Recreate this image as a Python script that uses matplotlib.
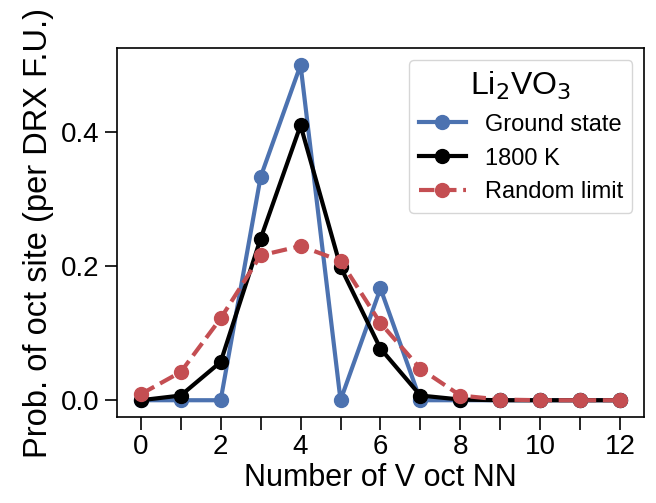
import numpy as np
import matplotlib
matplotlib.use("Agg")
from matplotlib import pyplot as plt

plt.rcParams['font.family'] = ['Liberation Sans', 'DejaVu Sans']

nn = np.arange(13)
ground = [0, 0, 0, 0.333, 0.5, 0, 0.1667, 0, 0, 0, 0, 0, 0]
hot = [0, 0.007, 0.057, 0.241, 0.41, 0.199, 0.077, 0.007, 0.001, 0, 0, 0, 0]
rand = [0.009, 0.042, 0.122, 0.216, 0.23, 0.208, 0.115, 0.047, 0.007, 0.001, 0, 0, 0]

fig = plt.figure(figsize=(6.56, 5.03), dpi=100)
ax = fig.add_axes([0.178, 0.171, 0.804, 0.733])

ax.plot(nn, ground, '-o', color='#4C72B0', lw=3, ms=10, label='Ground state')
ax.plot(nn, hot, '-o', color='black', lw=3, ms=10, label='1800 K')
ax.plot(nn, rand, '--o', color='#C44E52', lw=3, ms=10, label='Random limit')

ax.set_xlim(-0.6, 12.6)
ax.set_ylim(-0.025, 0.525)
ax.set_xticks(range(0, 13, 2))
ax.set_xticks(range(13), minor=True)
ax.set_yticks([0.0, 0.2, 0.4])
ax.tick_params(which='both', labelsize=20, width=1.2, length=9, direction='out')
for s in ax.spines.values():
    s.set_linewidth(1.2)
ax.set_xlabel('Number of V oct NN', fontsize=22, labelpad=2)
ax.set_ylabel('Prob. of oct site (per DRX F.U.)', fontsize=23.5, labelpad=5)

leg = ax.legend(title=r'Li$_2$VO$_3$', fontsize=17, title_fontsize=23,
                loc='upper right', frameon=True, borderaxespad=0.5)
leg.get_frame().set_edgecolor('#cccccc')

fig.savefig('out.png', dpi=100)
